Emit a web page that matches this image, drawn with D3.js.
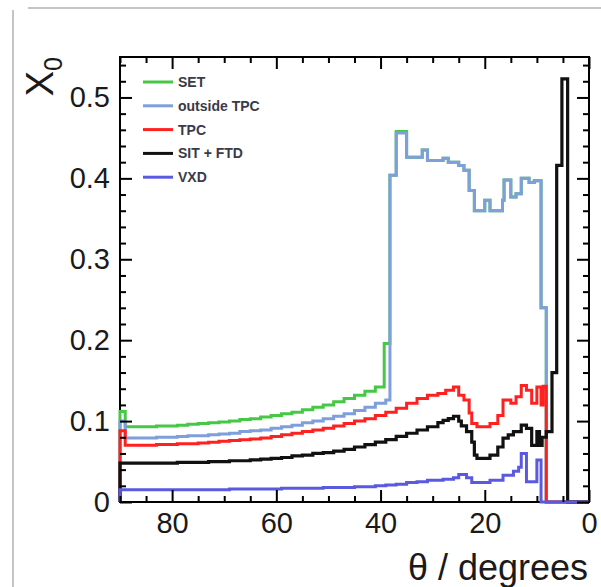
<!DOCTYPE html>
<html><head><meta charset="utf-8">
<script src="https://cdn.jsdelivr.net/npm/d3@7"></script>
<style>html,body{margin:0;padding:0;background:#fff;}svg{display:block;}</style>
</head><body>
<script>
// ---- data: histogram steps [theta where bin starts (left edge), value] ----
const barrelStarts = [89,87,85,83,81,79,77,75,73,71,69,67,65,63,61,59,57,55,53,51,49,47,45,43,41];
const setBarrel   = [0.093,0.093,0.093,0.094,0.094,0.095,0.096,0.097,0.098,0.099,0.100,0.102,0.103,0.105,0.107,0.109,0.111,0.114,0.117,0.120,0.124,0.128,0.132,0.137,0.142];
const outBarrel   = [0.079,0.079,0.079,0.080,0.080,0.081,0.082,0.082,0.083,0.084,0.085,0.087,0.088,0.089,0.091,0.093,0.095,0.098,0.100,0.103,0.106,0.109,0.113,0.117,0.122];
const tpcBarrel   = [0.070,0.070,0.070,0.071,0.071,0.072,0.072,0.073,0.074,0.075,0.076,0.077,0.078,0.079,0.081,0.083,0.085,0.087,0.089,0.091,0.094,0.097,0.100,0.103,0.107];
const sitBarrel   = [0.048,0.048,0.048,0.048,0.048,0.049,0.049,0.049,0.050,0.050,0.051,0.051,0.052,0.053,0.054,0.055,0.057,0.058,0.060,0.061,0.063,0.065,0.068,0.071,0.074];
const vxdBarrel   = [0.015,0.015,0.015,0.015,0.015,0.015,0.015,0.015,0.015,0.015,0.016,0.016,0.016,0.016,0.016,0.017,0.017,0.017,0.017,0.018,0.018,0.018,0.019,0.019,0.020];

const firstBin = {SET:0.112, out:0.100, TPC:0.088, SIT:0.048, VXD:0.015};

const setForward = [[39.3,0.196],[38.2,0.404],[37,0.458],[35,0.426],[32,0.435],[31,0.422],[28,0.425],[27,0.420],[25,0.416],[24,0.410],[23,0.385],[22,0.360],[20,0.373],[19,0.360],[16.6,0.373],[16.3,0.398],[15,0.377],[14,0.381],[13,0.400],[11.5,0.395],[10.5,0.397],[9.2,0.240],[8.2,0],[0,0]];
const outForward = [[39,0.126],[38.2,0.404],[37,0.456],[35,0.426],[32,0.435],[31,0.422],[28,0.425],[27,0.420],[25,0.416],[24,0.410],[23,0.385],[22,0.360],[20,0.373],[19,0.360],[16.6,0.373],[16.3,0.398],[15,0.377],[14,0.381],[13,0.400],[11.5,0.395],[10.5,0.397],[9.2,0.240],[8.2,0],[0,0]];
const tpcForward = [[39,0.111],[37,0.116],[35,0.122],[33,0.128],[31,0.132],[29,0.134],[27.5,0.138],[26,0.142],[25,0.132],[24,0.126],[23,0.110],[22.5,0.097],[21.5,0.093],[19,0.097],[17.5,0.107],[16.5,0.126],[15,0.122],[14,0.130],[13,0.144],[12,0.138],[11,0.122],[10,0.142],[9.2,0.120],[8.8,0.143],[8.2,0],[0,0]];
const sitForward = [[39,0.077],[37,0.081],[35,0.085],[33,0.089],[31,0.093],[29,0.098],[28,0.101],[27,0.103],[26,0.106],[25,0.100],[24.5,0.094],[23.5,0.087],[22.5,0.074],[22,0.058],[21.5,0.054],[19,0.058],[17.5,0.068],[16.5,0.079],[15.5,0.083],[14.5,0.087],[13,0.095],[12,0.091],[11,0.070],[10,0.087],[9.5,0.070],[9,0.080],[8.2,0.087],[7.1,0.160],[6.2,0.416],[5.2,0.523],[4.1,0],[0,0]];
const vxdForward = [[39,0.021],[37,0.022],[35,0.024],[33,0.025],[31,0.027],[29,0.027],[28,0.028],[26,0.030],[25,0.034],[23.5,0.030],[22.5,0.024],[19,0.027],[16.5,0.033],[14.5,0.038],[13.5,0.043],[13,0.060],[12,0.025],[10,0.052],[9.2,0],[0,0]];

const legendLabels = ["SET","outside TPC","TPC","SIT + FTD","VXD"];
const xMajorTicks = [80,60,40,20,0];
const yMajorTicks = [0,0.1,0.2,0.3,0.4,0.5];

// ---- build series ----
function buildSeries(first, barrel, forward){
  const pts = [[90,0],[90,first]];
  pts.push([89, barrel[0]]);
  for(let i=1;i<barrelStarts.length;i++) pts.push([barrelStarts[i], barrel[i]]);
  forward.forEach(p=>pts.push(p));
  return pts;
}
const series = [
  {name:legendLabels[0], color:"#46c846", w:3, pts:buildSeries(firstBin.SET, setBarrel, setForward)},
  {name:legendLabels[1], color:"#7f9fdc", w:3, pts:buildSeries(firstBin.out, outBarrel, outForward)},
  {name:legendLabels[2], color:"#ff2020", w:3, pts:buildSeries(firstBin.TPC, tpcBarrel, tpcForward)},
  {name:legendLabels[3], color:"#111111", w:3.2, pts:buildSeries(firstBin.SIT, sitBarrel, sitForward)},
  {name:legendLabels[4], color:"#5a5ae0", w:3, pts:buildSeries(firstBin.VXD, vxdBarrel, vxdForward)}
];

// ---- drawing ----
const W=601, H=587;
const L=120, R=589, T=57, B=502;
const svg = d3.select("body").append("svg").attr("width",W).attr("height",H);
svg.append("rect").attr("width",W).attr("height",H).attr("fill","#fff");

// slide frame lines
svg.append("line").attr("x1",13).attr("x2",13).attr("y1",10).attr("y2",587).attr("stroke","#c4c4c4").attr("stroke-width",2);
svg.append("line").attr("x1",28).attr("x2",601).attr("y1",8).attr("y2",8).attr("stroke","#c4c4c4").attr("stroke-width",2);

const x = d3.scaleLinear().domain([90,0]).range([L,R]);
const y = d3.scaleLinear().domain([0,0.55]).range([B,T]);

const font = "'Liberation Sans', Arial, Helvetica, sans-serif";

// plot frame
svg.append("rect").attr("x",L).attr("y",T).attr("width",R-L).attr("height",B-T)
  .attr("fill","none").attr("stroke","#000").attr("stroke-width",2);

// lines
const line = d3.line().x(d=>x(d[0])).y(d=>y(d[1])).curve(d3.curveStepAfter);
series.forEach(s=>{
  svg.append("path").datum(s.pts).attr("d",line).attr("fill","none")
    .attr("stroke",s.color).attr("stroke-width",s.w).attr("stroke-linejoin","miter");
});

// axes
const xMinor = d3.range(0,91,5).filter(v=>v%20!==0);
const yMinor = d3.range(0,0.55,0.02).map(v=>+v.toFixed(2)).filter(v=>Math.abs(v*10-Math.round(v*10))>1e-6);

function styleAxis(g){ g.select(".domain").remove(); g.selectAll("line").attr("stroke","#000").attr("stroke-width",2); g.selectAll("text").attr("font-family",font).attr("fill","#1a1a1a"); }

svg.append("g").attr("transform",`translate(0,${B})`)
  .call(d3.axisBottom(x).tickValues(xMajorTicks).tickSize(-12).tickPadding(10).tickFormat(d3.format("d")))
  .call(styleAxis).selectAll("text").attr("font-size",29);
svg.append("g").attr("transform",`translate(0,${B})`)
  .call(d3.axisBottom(x).tickValues(xMinor).tickSize(-6).tickFormat("")).call(styleAxis);
svg.append("g").attr("transform",`translate(0,${T})`)
  .call(d3.axisTop(x).tickValues(xMajorTicks).tickSize(-12).tickFormat("")).call(styleAxis);
svg.append("g").attr("transform",`translate(0,${T})`)
  .call(d3.axisTop(x).tickValues(xMinor).tickSize(-6).tickFormat("")).call(styleAxis);

svg.append("g").attr("transform",`translate(${L},0)`)
  .call(d3.axisLeft(y).tickValues(yMajorTicks).tickSize(-12).tickPadding(10).tickFormat(d=>d===0?"0":d.toFixed(1)))
  .call(styleAxis).selectAll("text").attr("font-size",29);
svg.append("g").attr("transform",`translate(${L},0)`)
  .call(d3.axisLeft(y).tickValues(yMinor).tickSize(-6).tickFormat("")).call(styleAxis);
svg.append("g").attr("transform",`translate(${R},0)`)
  .call(d3.axisRight(y).tickValues(yMajorTicks).tickSize(-12).tickFormat("")).call(styleAxis);
svg.append("g").attr("transform",`translate(${R},0)`)
  .call(d3.axisRight(y).tickValues(yMinor).tickSize(-6).tickFormat("")).call(styleAxis);

// axis titles
svg.append("text").attr("x",588).attr("y",580).attr("text-anchor","end")
  .attr("font-family",font).attr("font-size",36).attr("fill","#1a1a1a").text("θ / degrees");
const yt = svg.append("text").attr("transform",`translate(53,${T}) rotate(-90)`).attr("text-anchor","end")
  .attr("font-family",font).attr("font-size",38).attr("fill","#1a1a1a");
yt.append("tspan").text("X");
yt.append("tspan").attr("dy",9).attr("font-size",25).text("0");

// legend
const lg = svg.append("g");
series.forEach((s,i)=>{
  const cy = 82 + i*23.8;
  lg.append("line").attr("x1",143).attr("x2",173).attr("y1",cy).attr("y2",cy)
    .attr("stroke",s.color).attr("stroke-width",3);
  lg.append("text").attr("x",178).attr("y",cy).attr("dy","0.35em")
    .attr("font-family",font).attr("font-size",14).attr("font-weight","bold").attr("fill","#3a3a48")
    .text(s.name);
});
</script>
</body></html>
